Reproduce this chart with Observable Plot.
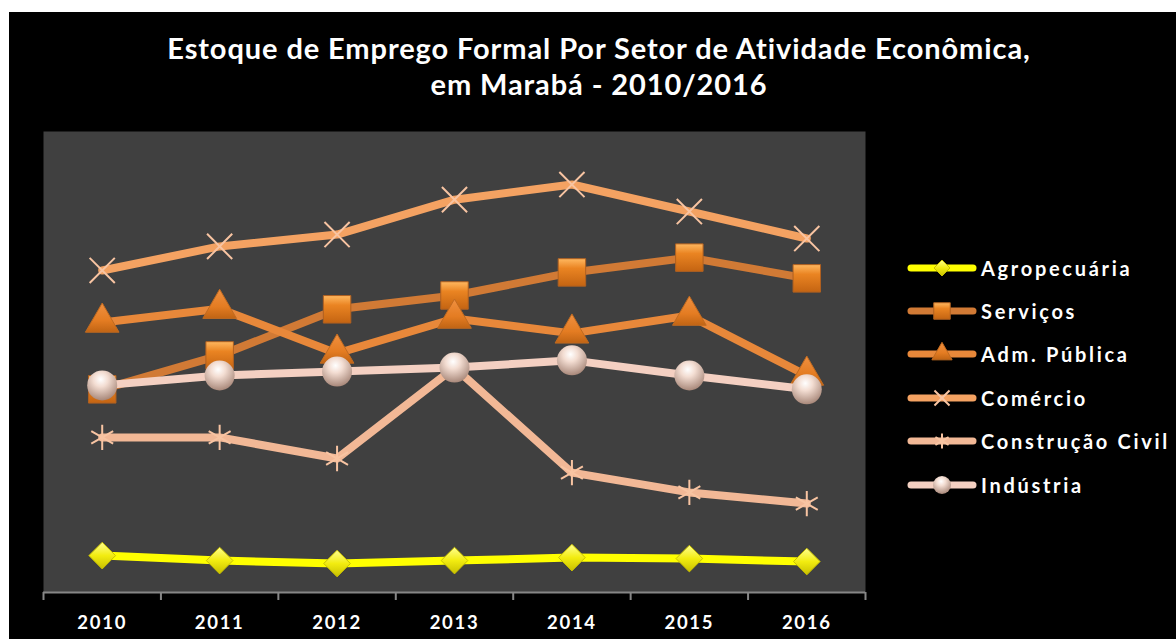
<!DOCTYPE html>
<html><head><meta charset="utf-8">
<script src="https://cdn.jsdelivr.net/npm/d3@7"></script>
<script src="https://cdn.jsdelivr.net/npm/@observablehq/plot@0.6"></script>
<style>
body{margin:0;background:#fff;width:1176px;height:639px;overflow:hidden;position:relative;font-family:Lato,"Open Sans",sans-serif;}
#bg{position:absolute;left:9px;top:12px;width:1167px;height:627px;background:#000;}
#title{position:absolute;left:0;top:30px;width:1198px;text-align:center;color:#fff;font-weight:700;font-size:29px;line-height:36px;letter-spacing:0.9px;}
#chart{position:absolute;left:0;top:0;}
#chart svg text{letter-spacing:1.7px;}
#legend{position:absolute;left:907px;top:246px;}
.row{display:flex;align-items:center;height:43.4px;}
.row span{color:#fff;font-weight:700;font-size:20px;letter-spacing:2.7px;margin-left:2px;white-space:nowrap;}
</style></head>
<body>
<div id="bg"></div>
<div id="title">Estoque de Emprego Formal Por Setor de Atividade Econômica,<br>em Marabá - 2010/2016</div>
<div id="chart"></div>
<div id="legend"></div>
<script>
const years = [2010, 2011, 2012, 2013, 2014, 2015, 2016];
const seriesNames = ["Agropecuária", "Serviços", "Adm. Pública", "Comércio", "Construção Civil", "Indústria"];
const agropecuaria    = [1120, 970, 880, 970, 1060, 1030, 940];
const servicos        = [6170, 7200, 8600, 9020, 9720, 10170, 9540];
const admPublica      = [8200, 8620, 7260, 8320, 7870, 8410, 6590];
const comercio        = [9780, 10510, 10870, 11930, 12390, 11570, 10750];
const construcaoCivil = [4710, 4710, 4070, 6830, 3640, 3040, 2700];
const industria       = [6290, 6590, 6710, 6830, 7050, 6590, 6170];
const boundaries = [2009.5, 2010.5, 2011.5, 2012.5, 2013.5, 2014.5, 2015.5, 2016.5];

const seriesValues = [agropecuaria, servicos, admPublica, comercio, construcaoCivil, industria];
const styles = [
  {line:"#ffff00", symbol:"diamond2", r:12, fill:"url(#gDia)", stroke:"#c8c000", sw:1},
  {line:"#d17a35", symbol:"square", r:15.5, fill:"url(#gSq)", stroke:"#b06020", sw:1},
  {line:"#e8883a", symbol:"triangle", r:12.5, fill:"url(#gTri)", stroke:"#c06a20", sw:1},
  {line:"#f4a262", symbol:"times", r:11.5, fill:"none", stroke:"#f8c4a2", sw:2},
  {line:"#f2b896", symbol:"asterisk", r:12, fill:"none", stroke:"#f8c4a2", sw:2},
  {line:"#f4d0c2", symbol:"circle", r:15, fill:"url(#gSph)", stroke:"none", sw:0}
];
const tables = seriesValues.map((vals, i) => years.map((y, j) => ({year: y, value: vals[j], series: seriesNames[i]})));

const marks = [
  Plot.frame({fill:"#404040", stroke:null}),
  Plot.ruleY([0], {stroke:"#868686", strokeWidth:2}),
  Plot.axisX(boundaries, {tickSize:8, tickFormat:() => "", label:null, stroke:"#868686", strokeWidth:2}),
  Plot.axisX(years, {tickSize:0, tickPadding:23, tickFormat:d => String(d), label:null, fill:"#fff", fontSize:18.5, fontWeight:700})
];
tables.forEach((t, i) => {
  const s = styles[i];
  marks.push(Plot.line(t, {x:"year", y:"value", stroke:s.line, strokeWidth:8, strokeLinejoin:"round"}));
  marks.push(Plot.dot(t, {x:"year", y:"value", symbol:() => s.symbol, r:s.r, fill:s.fill, stroke:s.stroke, strokeWidth:s.sw}));
});

const chart = Plot.plot({
  width:1176, height:639,
  marginLeft:43, marginRight:311, marginTop:131, marginBottom:47,
  style:{background:"transparent", fontFamily:"Lato, 'Open Sans', sans-serif", overflow:"visible"},
  x:{type:"linear", domain:[2009.5, 2016.5], axis:null, label:null},
  y:{domain:[0, 14000], axis:null, label:null},
  symbol:{type:"identity"},
  marks
});

const defsHTML = `
<radialGradient id="gSph" cx="45%" cy="30%" r="70%">
  <stop offset="0%" stop-color="#ffffff"/><stop offset="35%" stop-color="#f3ddd2"/><stop offset="100%" stop-color="#a8887a"/>
</radialGradient>
<linearGradient id="gSq" x1="0" y1="0" x2="0" y2="1">
  <stop offset="0%" stop-color="#ffb860"/><stop offset="35%" stop-color="#ea8422"/><stop offset="100%" stop-color="#c46412"/>
</linearGradient>
<linearGradient id="gTri" x1="0" y1="0" x2="0" y2="1">
  <stop offset="0%" stop-color="#f09040"/><stop offset="60%" stop-color="#e47c22"/><stop offset="100%" stop-color="#c06414"/>
</linearGradient>
<linearGradient id="gDia" x1="0" y1="0" x2="0" y2="1">
  <stop offset="0%" stop-color="#ffff90"/><stop offset="50%" stop-color="#f2ec10"/><stop offset="100%" stop-color="#c8c000"/>
</linearGradient>`;
const defs = document.createElementNS("http://www.w3.org/2000/svg", "defs");
defs.innerHTML = defsHTML;
chart.insertBefore(defs, chart.firstChild);
document.getElementById("chart").appendChild(chart);

// Legend
const legend = document.getElementById("legend");
const symMap = {diamond2:d3.symbolDiamond2, square:d3.symbolSquare, triangle:d3.symbolTriangle, times:d3.symbolTimes, asterisk:d3.symbolAsterisk, circle:d3.symbolCircle};
seriesNames.forEach((name, i) => {
  const s = styles[i];
  const row = document.createElement("div");
  row.className = "row";
  const path = d3.symbol(symMap[s.symbol], Math.PI * (s.r * 0.6) ** 2)();
  row.innerHTML = `<svg width="72" height="24" viewBox="0 0 72 24">${defsHTML}
    <line x1="4" y1="12" x2="66" y2="12" stroke="${s.line}" stroke-width="7" stroke-linecap="round"/>
    <path transform="translate(35,12)" d="${path}" fill="${s.fill}" stroke="${s.stroke}" stroke-width="${s.sw}"/></svg><span>${name}</span>`;
  legend.appendChild(row);
});
</script>
</body></html>
